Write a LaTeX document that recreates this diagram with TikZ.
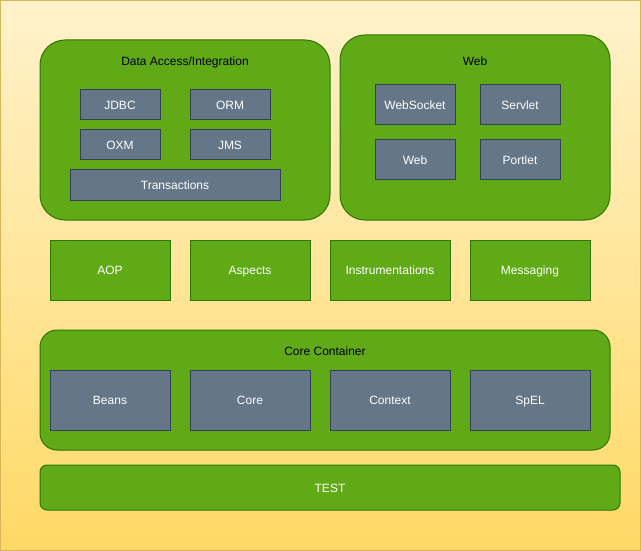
\documentclass[tikz,border=0pt]{standalone}
\usepackage{fontspec}
\setmainfont{Liberation Sans}
\definecolor{bgtop}{HTML}{FFF2CC}
\definecolor{bgbot}{HTML}{FFD966}
\definecolor{bgline}{HTML}{D6B656}
\definecolor{grfill}{HTML}{60A917}
\definecolor{grline}{HTML}{2D7600}
\definecolor{slfill}{HTML}{647687}
\definecolor{slline}{HTML}{314354}
\begin{document}
\begin{tikzpicture}[x=1pt,y=-1pt,
  every node/.style={font=\fontsize{12}{14}\selectfont, inner sep=0pt, outer sep=0pt, text height=10pt, text depth=0.4pt},
  group/.style={draw=grline, fill=grfill, line width=1pt},
  greenbox/.style={draw=grline, fill=grfill, line width=1pt, text=white},
  slatebox/.style={draw=slline, fill=slfill, line width=1pt, text=white},
  ttl/.style={text=black}]
\useasboundingbox (0,0) rectangle (641,551);
\shade[top color=bgtop, bottom color=bgbot] (0.5,0.5) rectangle (640.5,550.5);
\draw[bgline, line width=1pt] (0.5,0.5) rectangle (640.5,550.5);
% groups
\draw[group, rounded corners=25pt] (40,40) rectangle (330,220);
\node[ttl] (dai) at (185,61) {Data Access/Integration};
\draw[group, rounded corners=25pt] (340,35) rectangle (610,220);
\node[ttl] (webg) at (475,61) {Web};
\draw[group, rounded corners=17pt] (40,330) rectangle (610,450);
\node[ttl] (cc) at (325,351) {Core Container};
% data access
\node[slatebox, minimum width=80pt, minimum height=30pt] (jdbc) at (120,105) {JDBC};
\node[slatebox, minimum width=80pt, minimum height=30pt] (orm) at (230,105) {ORM};
\node[slatebox, minimum width=80pt, minimum height=30pt] (oxm) at (120,145) {OXM};
\node[slatebox, minimum width=80pt, minimum height=30pt] (jms) at (230,145) {JMS};
\node[slatebox, minimum width=210pt, minimum height=30pt] (tx) at (175,185) {Transactions};
% web
\node[slatebox, minimum width=80pt, minimum height=40pt] (ws) at (415,105) {WebSocket};
\node[slatebox, minimum width=80pt, minimum height=40pt] (servlet) at (520,105) {Servlet};
\node[slatebox, minimum width=80pt, minimum height=40pt] (web) at (415,160) {Web};
\node[slatebox, minimum width=80pt, minimum height=40pt] (portlet) at (520,160) {Portlet};
% middle row
\node[greenbox, minimum width=120pt, minimum height=60pt] (aop) at (110,270) {AOP};
\node[greenbox, minimum width=120pt, minimum height=60pt] (asp) at (250,270) {Aspects};
\node[greenbox, minimum width=120pt, minimum height=60pt] (inst) at (390,270) {Instrumentations};
\node[greenbox, minimum width=120pt, minimum height=60pt] (msg) at (530,270) {Messaging};
% core
\node[slatebox, minimum width=120pt, minimum height=60pt] (beans) at (110,400) {Beans};
\node[slatebox, minimum width=120pt, minimum height=60pt] (core) at (250,400) {Core};
\node[slatebox, minimum width=120pt, minimum height=60pt] (ctx) at (390,400) {Context};
\node[slatebox, minimum width=120pt, minimum height=60pt] (spel) at (530,400) {SpEL};
% test
\node[greenbox, rounded corners=7pt, minimum width=580pt, minimum height=45pt] (test) at (330,487.5) {TEST};
\end{tikzpicture}
\end{document}
